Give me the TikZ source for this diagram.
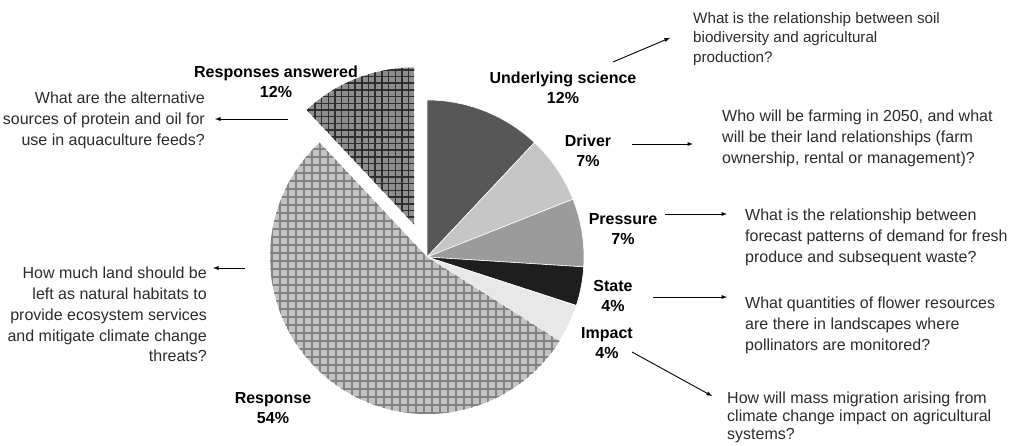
\documentclass[tikz,border=0pt]{standalone}
\usepackage{fontspec}
\setmainfont{Liberation Sans}
\usetikzlibrary{calc,arrows}
\definecolor{usgray}{HTML}{575757}
\definecolor{drvgray}{HTML}{C6C6C6}
\definecolor{prsgray}{HTML}{9B9B9B}
\definecolor{stagray}{HTML}{1E1E1E}
\definecolor{impgray}{HTML}{E8E8E8}
\definecolor{rspfill}{HTML}{C2C2C2}
\definecolor{rspline}{HTML}{828282}
\definecolor{rafill}{HTML}{8E8E8E}
\definecolor{raline}{HTML}{2E2E2E}
\definecolor{qgray}{HTML}{2B2B2B}
\begin{document}
\begin{tikzpicture}[x=1pt,y=1pt,
    lbl/.style={anchor=north,align=center,inner sep=0pt,font=\fontsize{16}{20}\selectfont\bfseries},
    qtxt/.style={inner sep=0pt,text=qgray,font=\fontsize{16}{20.8}\selectfont},
    arr/.style={-latex,line width=0.9pt}]
  \useasboundingbox (0,0) rectangle (1012,445);
  \coordinate (c) at (427,188);
  \coordinate (ce) at ($(c)+(111.6:35)$);
  \foreach \a/\b/\col in {90/46.8/usgray,46.8/21.6/drvgray,21.6/-3.6/prsgray,-3.6/-18/stagray,-18/-32.4/impgray}
    \filldraw[fill=\col,draw=white,line width=0.6pt] (c) -- ++(\a:157) arc[start angle=\a,end angle=\b,radius=157] -- cycle;
  \begin{scope}
    \clip (c) -- ++(-32.4:157) arc[start angle=-32.4,end angle=-226.8,radius=157] -- cycle;
    \fill[rspfill] (c) circle[radius=160];
    \draw[rspline,line width=2pt,step=8] (260,20) grid (600,360);
  \end{scope}
  \begin{scope}
    \clip (ce) -- ++(133.2:157) arc[start angle=133.2,end angle=90,radius=157] -- cycle;
    \fill[rafill] (ce) circle[radius=160];
    \draw[raline,line width=1.5pt,step=6.7] (290,200) grid (430,400);
  \end{scope}

  \node[lbl] (ra) at (276,379) {Responses answered\\12\%};
  \node[lbl] (us) at (563,373) {Underlying science\\12\%};
  \node[lbl] (drv) at (588,310) {Driver\\7\%};
  \node[lbl] (prs) at (623,232) {Pressure\\7\%};
  \node[lbl] (sta) at (613,165) {State\\4\%};
  \node[lbl] (imp) at (607,118) {Impact\\4\%};
  \node[lbl] (rsp) at (273,53) {Response\\54\%};

  \node[qtxt,anchor=north west,align=left,font=\fontsize{15.2}{19.6}\selectfont] (q1) at (693,433) {What is the relationship between soil\\biodiversity and agricultural\\production?};
  \node[qtxt,anchor=north west,align=left] (q2) at (722,335) {Who will be farming in 2050, and what\\will be their land relationships (farm\\ownership, rental or management)?};
  \node[qtxt,anchor=north west,align=left] (q3) at (745,236) {What is the relationship between\\forecast patterns of demand for fresh\\produce and subsequent waste?};
  \node[qtxt,anchor=north west,align=left] (q4) at (745,148) {What quantities of flower resources\\are there in landscapes where\\pollinators are monitored?};
  \node[qtxt,anchor=north west,align=left,font=\fontsize{16}{18}\selectfont] (q5) at (727,53) {How will mass migration arising from\\climate change impact on agricultural\\systems?};
  \node[qtxt,anchor=north east,align=right] (q6) at (205,353) {What are the alternative\\sources of protein and oil for\\use in aquaculture feeds?};
  \node[qtxt,anchor=north east,align=right] (q7) at (207,178) {How much land should be\\left as natural habitats to\\provide ecosystem services\\and mitigate climate change\\threats?};

  \coordinate (usA) at (613,383);
  \coordinate (drvA) at (632,301);
  \coordinate (prsA) at (665,231);
  \coordinate (staA) at (653,148);
  \coordinate (impA) at (632,93);
  \coordinate (raA) at (288,326);
  \coordinate (rspA) at (245,177);
  \draw[arr] (usA) -- ($(q1.west)+(-23,1)$);
  \draw[arr,shorten >=29pt] (drvA) -- (q2.west |- drvA);
  \draw[arr,shorten >=18pt] (prsA) -- (q3.west |- prsA);
  \draw[arr,shorten >=18pt] (staA) -- (q4.west |- staA);
  \draw[arr] (impA) -- ($(q5.north west)+(-15,-4)$);
  \draw[arr,shorten >=10pt] (raA) -- (q6.east |- raA);
  \draw[arr,shorten >=6pt] (rspA) -- (q7.east |- rspA);
\end{tikzpicture}
\end{document}
